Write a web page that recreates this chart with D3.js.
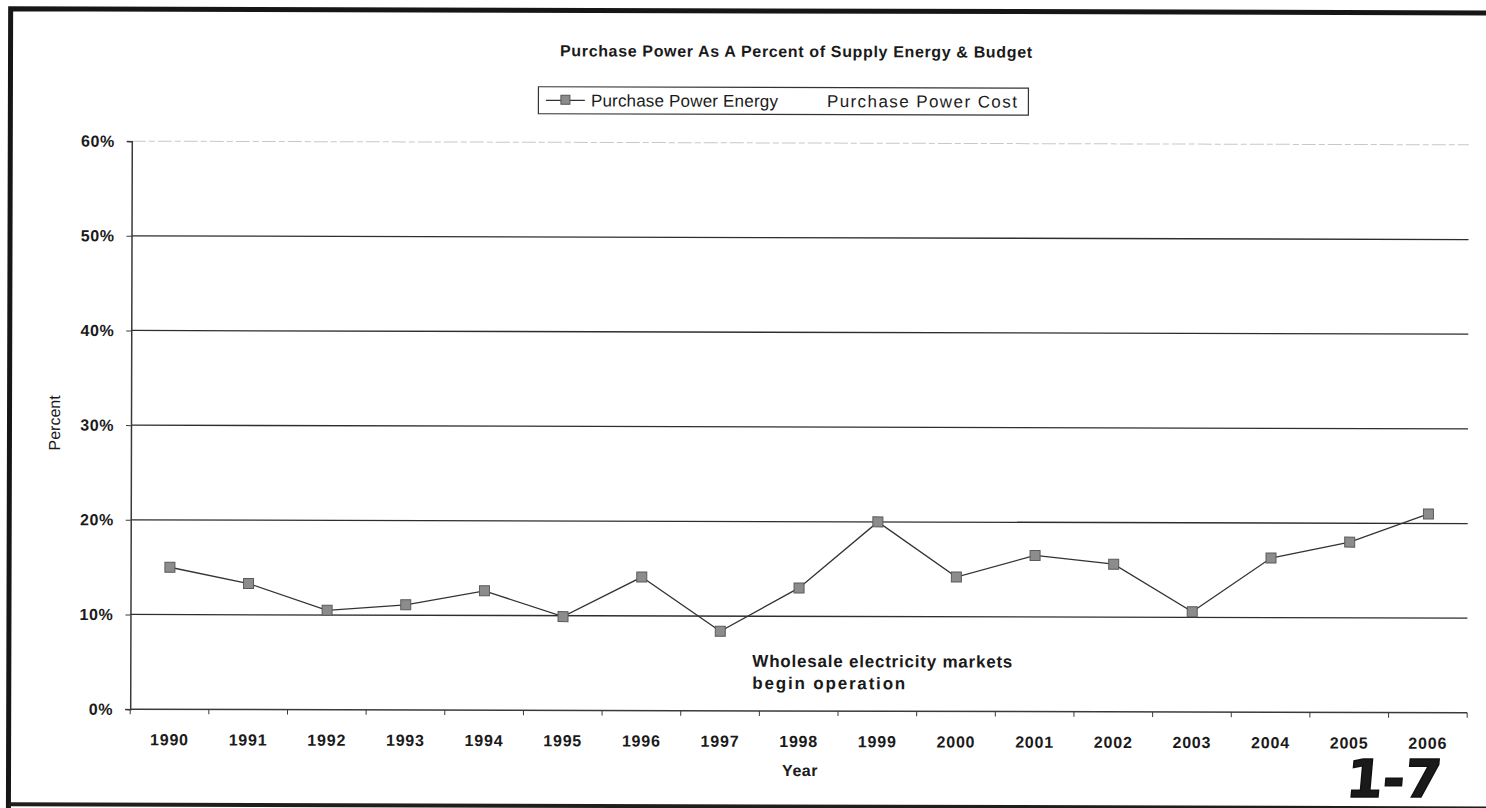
<!DOCTYPE html>
<html>
<head>
<meta charset="utf-8">
<script src="https://cdn.jsdelivr.net/npm/d3@7"></script>
<style>
  html, body { margin: 0; padding: 0; background: #fff; }
  svg { display: block; }
  text { font-family: "Liberation Sans", Arial, sans-serif; fill: #1a1a1a; }
</style>
</head>
<body>
<svg id="chart" width="1486" height="808"></svg>
<script>
// Purchase power energy share of supply, by year
const years = ["1990","1991","1992","1993","1994","1995","1996","1997","1998",
               "1999","2000","2001","2002","2003","2004","2005","2006"];
const energyPct = [15.0, 13.3, 10.5, 11.1, 12.6, 9.9, 14.1, 8.4, 13.0,
                   20.0, 14.2, 16.5, 15.6, 10.6, 16.3, 18.0, 21.0];
const yTicks = [0, 10, 20, 30, 40, 50, 60];
const legendLabels = ["Purchase Power Energy", "Purchase Power Cost"];
const titleText = "Purchase Power As A Percent of Supply Energy & Budget";
const noteLines = ["Wholesale electricity markets", "begin operation"];

const W = 1486, H = 808;
const plot = { left: 131, right: 1468, top: 143, bottom: 711 };

const svg = d3.select("#chart");
// the sheet sits very slightly askew on the page
const page = svg.append("g").attr("transform", "rotate(0.16, 800, 425)");

// frame around the sheet
page.append("path")
  .attr("d", `M9.5,${H + 10} L9.5,11 L${W + 10},11`)
  .attr("fill", "none").attr("stroke", "#161616").attr("stroke-width", 5);
page.append("line")
  .attr("x1", 9.5).attr("x2", W + 10).attr("y1", 806.5).attr("y2", 806.5)
  .attr("stroke", "#1e1e1e").attr("stroke-width", 4);

const x = d3.scaleBand().domain(years).range([plot.left, plot.right]);
const y = d3.scaleLinear().domain([0, 60]).range([plot.bottom, plot.top]);

// horizontal gridlines
page.append("g")
  .selectAll("line")
  .data(yTicks.filter(t => t > 0))
  .join("line")
  .attr("x1", plot.left).attr("x2", plot.right)
  .attr("y1", d => y(d)).attr("y2", d => y(d))
  .attr("stroke", d => d === 60 ? "#c8c8c8" : "#2e2e2e")
  .attr("stroke-width", d => d === 60 ? 1 : 1.3)
  .attr("stroke-dasharray", d => d === 60 ? "14 3 6 3" : null);

// y axis
const yAxis = page.append("g")
  .attr("transform", `translate(${plot.left},0)`)
  .call(d3.axisLeft(y).tickValues(yTicks).tickFormat(d => d + "%").tickSize(5).tickPadding(12));
yAxis.select(".domain").attr("stroke", "#3a3a3a").attr("stroke-width", 1.5);
yAxis.selectAll(".tick line").attr("stroke", "#3a3a3a");
yAxis.selectAll(".tick text")
  .style("font-family", '"Liberation Sans", Arial, sans-serif')
  .style("font-size", "16px").style("font-weight", "bold")
  .style("letter-spacing", "0.6px").attr("fill", "#1a1a1a");

// x axis: ticks fall between the year categories
const xAxisG = page.append("g").attr("transform", `translate(0,${plot.bottom})`);
xAxisG.append("line")
  .attr("x1", plot.left).attr("x2", plot.right).attr("y1", 0).attr("y2", 0)
  .attr("stroke", "#3a3a3a").attr("stroke-width", 1.5);
xAxisG.selectAll("line.tk")
  .data(years.concat(["end"]))
  .join("line").attr("class", "tk")
  .attr("x1", (d, i) => i < years.length ? x(d) : plot.right)
  .attr("x2", (d, i) => i < years.length ? x(d) : plot.right)
  .attr("y1", 0).attr("y2", 5)
  .attr("stroke", "#3a3a3a");
xAxisG.selectAll("text")
  .data(years)
  .join("text")
  .attr("x", d => x(d) + x.bandwidth() / 2)
  .attr("y", 36)
  .attr("text-anchor", "middle")
  .style("font-size", "16px").style("font-weight", "bold").style("letter-spacing", "0.8px")
  .text(d => d);

// axis titles
page.append("text")
  .attr("x", 801).attr("y", 776).attr("text-anchor", "middle")
  .style("font-size", "16px").style("font-weight", "bold").style("letter-spacing", "0.5px")
  .text("Year");
page.append("text")
  .attr("transform", "translate(60,425) rotate(-90)")
  .attr("text-anchor", "middle")
  .style("font-size", "16px")
  .text("Percent");

// chart title
page.append("text")
  .attr("x", 795).attr("y", 57).attr("text-anchor", "middle")
  .style("font-size", "16px").style("font-weight", "bold")
  .attr("textLength", 472).attr("lengthAdjust", "spacing")
  .text(titleText);

// legend
const lg = page.append("g");
lg.append("rect")
  .attr("x", 537.5).attr("y", 87.5).attr("width", 490).attr("height", 27)
  .attr("fill", "#fff").attr("stroke", "#333").attr("stroke-width", 1.2);
lg.append("line")
  .attr("x1", 545).attr("x2", 584).attr("y1", 101).attr("y2", 101)
  .attr("stroke", "#333").attr("stroke-width", 1.2);
lg.append("rect")
  .attr("x", 560).attr("y", 96).attr("width", 9).attr("height", 9)
  .attr("fill", "#8c8c8c").attr("stroke", "#555");
lg.append("text")
  .attr("x", 590).attr("y", 107).style("font-size", "17px")
  .attr("textLength", 187).attr("lengthAdjust", "spacing")
  .text(legendLabels[0]);
lg.append("text")
  .attr("x", 826).attr("y", 107).style("font-size", "17px")
  .attr("textLength", 190).attr("lengthAdjust", "spacing")
  .text(legendLabels[1]);

// energy series line and markers
const line = d3.line()
  .x((d, i) => x(years[i]) + x.bandwidth() / 2)
  .y(d => y(d));
page.append("path")
  .datum(energyPct)
  .attr("d", line)
  .attr("fill", "none").attr("stroke", "#333").attr("stroke-width", 1.3);
page.append("g")
  .selectAll("rect")
  .data(energyPct)
  .join("rect")
  .attr("x", (d, i) => x(years[i]) + x.bandwidth() / 2 - 5)
  .attr("y", d => y(d) - 5)
  .attr("width", 10).attr("height", 10)
  .attr("fill", "#8c8c8c").attr("stroke", "#5a5a5a").attr("stroke-width", 1);

// annotation
page.append("g").selectAll("text")
  .data(noteLines)
  .join("text")
  .attr("x", 753).attr("y", (d, i) => 667 + i * 22)
  .style("font-size", "17px").style("font-weight", "600")
  .attr("textLength", (d, i) => i === 0 ? 260 : 153).attr("lengthAdjust", "spacing")
  .text(d => d);

// page number written on the sheet
svg.append("text")
  .attr("transform", "translate(1345,797) skewX(-5)")
  .style("font-family", '"DejaVu Sans", sans-serif')
  .style("font-size", "52px").style("font-weight", "bold")
  .attr("textLength", 95).attr("lengthAdjust", "spacingAndGlyphs")
  .attr("fill", "#111").attr("stroke", "#111").attr("stroke-width", 1.5)
  .text("1-7");
</script>
</body>
</html>
